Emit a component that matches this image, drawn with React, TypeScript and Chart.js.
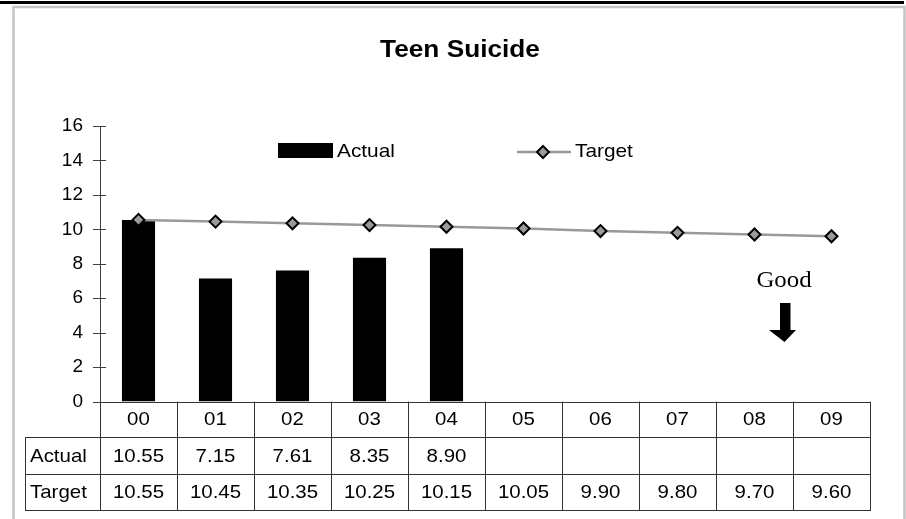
import React, { useEffect, useRef } from "react";
import { Chart, registerables } from "chart.js";

Chart.register(...registerables);

const categories = ["00", "01", "02", "03", "04", "05", "06", "07", "08", "09"];
const actualValues: (number | null)[] = [10.55, 7.15, 7.61, 8.35, 8.9, null, null, null, null, null];
const targetValues: number[] = [10.55, 10.45, 10.35, 10.25, 10.15, 10.05, 9.9, 9.8, 9.7, 9.6];
const yMin = 0;
const yMax = 16;
const yStep = 2;
const titleText = "Teen Suicide";
const annotationText = "Good";

const SANS = "'Liberation Sans', Arial, sans-serif";
const SERIF = "'Liberation Serif', 'Times New Roman', serif";

function stretchText(
  ctx: CanvasRenderingContext2D,
  text: string,
  x: number,
  y: number,
  align: CanvasTextAlign,
  font: string,
  sx = 1.1
) {
  ctx.save();
  ctx.font = font;
  ctx.textAlign = align;
  ctx.textBaseline = "middle";
  ctx.fillStyle = "#000";
  ctx.translate(x, y);
  ctx.scale(sx, 1);
  ctx.fillText(text, 0, 0);
  ctx.restore();
}

const decorPlugin = {
  id: "decor",
  beforeDraw(chart: any) {
    const ctx: CanvasRenderingContext2D = chart.ctx;
    ctx.save();
    ctx.fillStyle = "#fff";
    ctx.fillRect(0, 0, chart.width, chart.height);
    // frame
    ctx.fillStyle = "#000";
    ctx.fillRect(0, 1, 904, 3);
    ctx.strokeStyle = "#c4c4c4";
    ctx.lineWidth = 2.5;
    ctx.beginPath();
    ctx.moveTo(13.5, 519);
    ctx.lineTo(13.5, 7);
    ctx.lineTo(904.5, 7);
    ctx.lineTo(904.5, 519);
    ctx.stroke();
    ctx.restore();
  },
  afterDraw(chart: any) {
    const ctx: CanvasRenderingContext2D = chart.ctx;
    const xs = chart.scales.x;
    const ys = chart.scales.y;
    const area = chart.chartArea;
    const left = area.left;
    const right = area.right;
    const n = categories.length;
    const cw = (right - left) / n;

    // title
    stretchText(ctx, titleText, 460, 50.5, "center", `bold 24.5px ${SANS}`, 1.07);

    // y tick marks crossing the axis
    ctx.save();
    ctx.strokeStyle = "#404040";
    ctx.lineWidth = 1;
    for (let v = yMin; v <= yMax; v += yStep) {
      const py = Math.round(ys.getPixelForValue(v)) + 0.5;
      ctx.beginPath();
      ctx.moveTo(left - 7, py);
      ctx.lineTo(left + 6, py);
      ctx.stroke();
    }
    ctx.restore();

    // legend
    const ds = chart.data.datasets;
    ctx.save();
    ctx.fillStyle = "#000";
    ctx.fillRect(278, 143, 55, 15);
    ctx.restore();
    stretchText(ctx, ds[0].label, 337, 151.5, "left", `18.6px ${SANS}`, 1.12);
    ctx.save();
    ctx.strokeStyle = "#999";
    ctx.lineWidth = 2.5;
    ctx.beginPath();
    ctx.moveTo(517, 152);
    ctx.lineTo(571, 152);
    ctx.stroke();
    ctx.fillStyle = "#9a9a9a";
    ctx.strokeStyle = "#000";
    ctx.lineWidth = 2;
    ctx.beginPath();
    ctx.moveTo(543, 146);
    ctx.lineTo(549, 152);
    ctx.lineTo(543, 158);
    ctx.lineTo(537, 152);
    ctx.closePath();
    ctx.fill();
    ctx.stroke();
    ctx.restore();
    stretchText(ctx, ds[1].label, 575, 151.5, "left", `18.6px ${SANS}`, 1.12);

    // Good annotation
    stretchText(ctx, annotationText, 784, 281, "center", `23px ${SERIF}`, 1.08);
    ctx.save();
    ctx.fillStyle = "#000";
    ctx.fillRect(780, 303, 10.5, 27);
    ctx.beginPath();
    ctx.moveTo(769, 330);
    ctx.lineTo(796, 330);
    ctx.lineTo(784.5, 342);
    ctx.closePath();
    ctx.fill();
    ctx.restore();

    // data table
    const bottom = area.bottom;
    const r1 = 437;
    const r2 = 474;
    const r3 = 509.5;
    const tableLeft = 25;
    ctx.save();
    ctx.strokeStyle = "#333";
    ctx.lineWidth = 1;
    const hl = (x0: number, x1: number, y: number) => {
      ctx.beginPath();
      ctx.moveTo(x0, Math.round(y) + 0.5);
      ctx.lineTo(x1, Math.round(y) + 0.5);
      ctx.stroke();
    };
    const vl = (x: number, y0: number, y1: number) => {
      ctx.beginPath();
      ctx.moveTo(Math.round(x) + 0.5, y0);
      ctx.lineTo(Math.round(x) + 0.5, y1);
      ctx.stroke();
    };
    hl(left, right + 1, bottom);
    hl(tableLeft, right + 1, r1);
    hl(tableLeft, right + 1, r2);
    hl(tableLeft, right + 1, r3);
    vl(tableLeft, r1, r3 + 1);
    for (let i = 0; i <= n; i++) {
      const x = i === n ? right : xs.getPixelForValue(i) - cw / 2;
      vl(x, bottom, r3 + 1);
    }
    ctx.restore();

    const font = `18.6px ${SANS}`;
    stretchText(ctx, ds[0].label, 30, (r1 + r2) / 2 + 1, "left", font, 1.1);
    stretchText(ctx, ds[1].label, 30, (r2 + r3) / 2 + 1, "left", font, 1.1);
    for (let i = 0; i < n; i++) {
      const cx = xs.getPixelForValue(i);
      stretchText(ctx, categories[i], cx, (bottom + r1) / 2 + 1, "center", font, 1.1);
      const a = actualValues[i];
      if (a !== null && a !== undefined) {
        stretchText(ctx, a.toFixed(2), cx, (r1 + r2) / 2 + 1, "center", font, 1.1);
      }
      stretchText(ctx, targetValues[i].toFixed(2), cx, (r2 + r3) / 2 + 1, "center", font, 1.1);
    }
  },
};

export default function App() {
  const ref = useRef<HTMLCanvasElement | null>(null);
  useEffect(() => {
    if (!ref.current) return;
    const chart = new Chart(ref.current, {
      type: "bar",
      data: {
        labels: categories,
        datasets: [
          {
            type: "bar",
            label: "Actual",
            data: actualValues,
            backgroundColor: "#000",
            borderWidth: 0,
            barPercentage: 0.43,
            categoryPercentage: 1,
            order: 1,
          },
          {
            type: "line",
            label: "Target",
            data: targetValues,
            borderColor: "#999",
            borderWidth: 2.5,
            pointStyle: "rectRot",
            pointRadius: 6,
            pointBackgroundColor: "#9a9a9a",
            pointBorderColor: "#000",
            pointBorderWidth: 2,
            tension: 0,
            order: 0,
          },
        ] as any,
      },
      options: {
        animation: false,
        responsive: false,
        maintainAspectRatio: false,
        layout: { padding: { left: 0, right: 36, top: 126, bottom: 117.4 } },
        plugins: {
          legend: { display: false },
          title: { display: false },
          tooltip: { enabled: false },
        },
        scales: {
          x: {
            type: "category",
            display: false,
            offset: true,
            grid: { display: false },
          },
          y: {
            min: yMin,
            max: yMax,
            afterFit: (scale: any) => {
              scale.width = 100;
            },
            ticks: {
              stepSize: yStep,
              color: "#000",
              padding: 17,
              font: { family: SANS, size: 19 },
            },
            grid: { display: false, drawTicks: false, tickLength: 0 },
            border: { display: true, color: "#404040", width: 1 },
          },
        },
      },
      plugins: [decorPlugin],
    } as any);
    return () => chart.destroy();
  }, []);
  return (
    <div style={{ position: "absolute", left: 0, top: 0, width: 906, height: 519 }}>
      <canvas ref={ref} width={906} height={519} style={{ width: 906, height: 519, display: "block" }} />
    </div>
  );
}
